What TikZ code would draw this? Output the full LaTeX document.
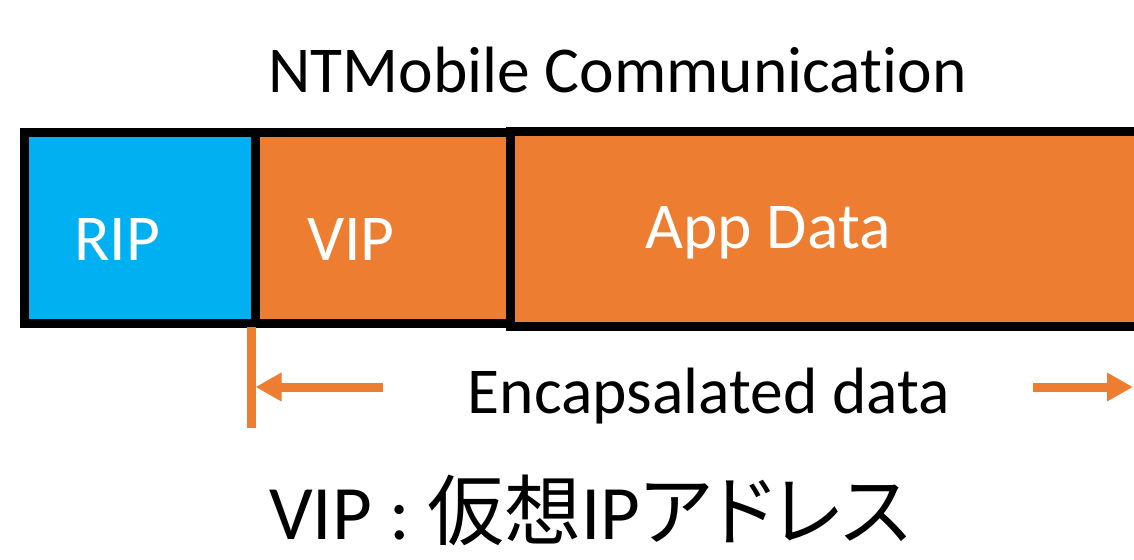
\documentclass[tikz,border=0pt]{standalone}
\usepackage{fontspec}
\setmainfont{Carlito}[Ligatures=NoCommon]
\newfontfamily\cjk[RawFeature=+palt]{Noto Sans CJK JP}
\usetikzlibrary{arrows.meta}
\definecolor{ripblue}{HTML}{00B0F0}
\definecolor{vorange}{HTML}{ED7D31}
\tikzset{
  field/.style={draw=black, line width=9pt},
  lbl/.style={anchor=base, inner sep=0pt, font=\fontsize{65.5}{70}\selectfont},
  wlbl/.style={lbl, text=white},
  encarrow/.style={draw=vorange, line width=9pt, -{Triangle[length=26pt,width=27pt]}},
  encbar/.style={draw=vorange, line width=8.5pt}
}
\begin{document}
\begin{tikzpicture}[x=1pt,y=-1pt]
\useasboundingbox (0,0) rectangle (1134,559);
\clip (0,0) rectangle (1134,559);
% fields
\path[field, fill=vorange] (510.5,131.5) rectangle (1145,326);
\path[field, fill=vorange] (255,132.5) rectangle (510.5,323);
\path[field, fill=ripblue] (24.5,132.5) rectangle (255,323);
\node[wlbl] (rip) at (117,260) {RIP};
\node[wlbl] (vip) at (351,260) {VIP};
\node[wlbl] (app) at (768,248) {App Data};
% title
\node[lbl, text=black] (title) at (617.5,93) {NTMobile Communication};
% encapsulated data
\coordinate (bt) at (251.5,327);
\coordinate (bb) at (251.5,428);
\path[encbar] (bt) -- (bb);
\coordinate (la) at (383,387);
\coordinate (lt) at (255.5,387);
\coordinate (ra) at (1033,387);
\coordinate (rt) at (1133,387);
\path[encarrow] (la) -- (lt);
\path[encarrow] (ra) -- (rt);
\node[lbl, text=black] (enc) at (709,413) {Encapsalated data};
% legend
\node[anchor=base west, inner sep=0pt, text depth=0pt, font=\fontsize{77}{84}\selectfont] (legend) at (269,539) {VIP : {\cjk 仮想}IP{\cjk アドレス}};
\end{tikzpicture}
\end{document}
